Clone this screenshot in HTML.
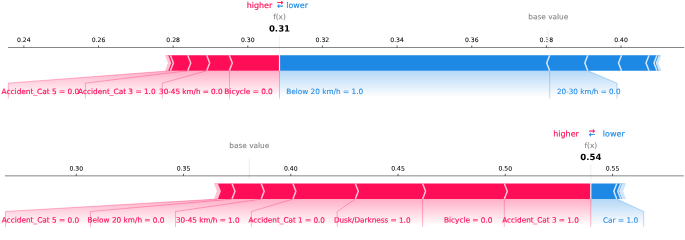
<!DOCTYPE html>
<html><head><meta charset="utf-8"><title>SHAP force plots</title>
<style>
html,body{margin:0;padding:0;background:#fff;}
body{width:685px;height:240px;overflow:hidden;}
svg{display:block;font-family:"DejaVu Sans","Liberation Sans",sans-serif;}
</style></head><body>
<svg width="685" height="240" viewBox="0 0 685 240">
<rect width="685" height="240" fill="#fff"/>
<g id="plot1">
<defs><linearGradient id="gp1" gradientUnits="userSpaceOnUse" x1="0" y1="70.75" x2="0" y2="97.1"><stop offset="0" stop-color="#FF0D57" stop-opacity="0.33"/><stop offset="1" stop-color="#FF0D57" stop-opacity="0"/></linearGradient><linearGradient id="gb1" gradientUnits="userSpaceOnUse" x1="0" y1="70.75" x2="0" y2="97.1"><stop offset="0" stop-color="#1E88E5" stop-opacity="0.33"/><stop offset="1" stop-color="#1E88E5" stop-opacity="0"/></linearGradient></defs>
<text x="23.85" y="41.98" font-size="6.15" text-anchor="middle" fill="#000" stroke="#000" stroke-width="0.06" transform="rotate(0.05,23.85,41.98)">0.24</text>
<text x="98.5" y="41.98" font-size="6.15" text-anchor="middle" fill="#000" stroke="#000" stroke-width="0.06" transform="rotate(0.05,98.5,41.98)">0.26</text>
<text x="173.15" y="41.98" font-size="6.15" text-anchor="middle" fill="#000" stroke="#000" stroke-width="0.06" transform="rotate(0.05,173.15,41.98)">0.28</text>
<text x="247.8" y="41.98" font-size="6.15" text-anchor="middle" fill="#000" stroke="#000" stroke-width="0.06" transform="rotate(0.05,247.8,41.98)">0.30</text>
<text x="322.45" y="41.98" font-size="6.15" text-anchor="middle" fill="#000" stroke="#000" stroke-width="0.06" transform="rotate(0.05,322.45,41.98)">0.32</text>
<text x="397.1" y="41.98" font-size="6.15" text-anchor="middle" fill="#000" stroke="#000" stroke-width="0.06" transform="rotate(0.05,397.1,41.98)">0.34</text>
<text x="471.75" y="41.98" font-size="6.15" text-anchor="middle" fill="#000" stroke="#000" stroke-width="0.06" transform="rotate(0.05,471.75,41.98)">0.36</text>
<text x="546.4" y="41.98" font-size="6.15" text-anchor="middle" fill="#000" stroke="#000" stroke-width="0.06" transform="rotate(0.05,546.4,41.98)">0.38</text>
<text x="621.05" y="41.98" font-size="6.15" text-anchor="middle" fill="#000" stroke="#000" stroke-width="0.06" transform="rotate(0.05,621.05,41.98)">0.40</text>
<line x1="548.3" x2="548.3" y1="50.6" y2="30.76" stroke="#F2F2F2" stroke-width="1.5"/>
<polygon points="279.5,70.75 170.4,70.75 8.3,83.15 8.3,101.75 279.5,101.75" fill="url(#gp1)"/>
<polygon points="279.5,70.75 587.8,70.75 617,83.15 617,101.75 279.5,101.75" fill="url(#gb1)"/>
<polygon fill="#FF0D57" points="229.3,70.75 279.5,70.75 279.5,55.25 229.3,55.25 232.3,63"/>
<polygon fill="#FF0D57" points="206.7,70.75 229.3,70.75 232,63 229.3,55.25 206.7,55.25 209.4,63"/>
<polygon fill="#FF0D57" points="187.75,70.75 206.7,70.75 209.4,63 206.7,55.25 187.75,55.25 190.45,63"/>
<polygon fill="#FF0D57" points="170.4,70.75 187.75,70.75 190.45,63 187.75,55.25 170.4,55.25 173.1,63"/>
<polygon fill="#FF0D57" points="167.5,70.75 170.4,70.75 173.1,63 170.4,55.25 167.5,55.25 170.2,63"/>
<polygon fill="#FF0D57" points="166.6,70.75 167.5,70.75 170.2,63 167.5,55.25 166.6,55.25 169.3,63"/>
<polygon fill="#FF0D57" points="165.8,70.75 166.6,70.75 169.3,63 166.6,55.25 165.8,55.25 168.5,63"/>
<polygon fill="#1E88E5" points="549.7,70.75 279.5,70.75 279.5,55.25 549.7,55.25 546.7,63"/>
<polygon fill="#1E88E5" points="549.7,70.75 587.8,70.75 585.1,63 587.8,55.25 549.7,55.25 547,63"/>
<polygon fill="#1E88E5" points="587.8,70.75 621.5,70.75 618.8,63 621.5,55.25 587.8,55.25 585.1,63"/>
<polygon fill="#1E88E5" points="621.5,70.75 649,70.75 646.3,63 649,55.25 621.5,55.25 618.8,63"/>
<polygon fill="#1E88E5" points="649,70.75 657,70.75 654.3,63 657,55.25 649,55.25 646.3,63"/>
<polygon fill="#1E88E5" points="657,70.75 659.4,70.75 656.7,63 659.4,55.25 657,55.25 654.3,63"/>
<polygon fill="#1E88E5" points="659.4,70.75 660.6,70.75 657.9,63 660.6,55.25 659.4,55.25 656.7,63"/>
<polyline fill="none" stroke="#FFC3D5" stroke-width="1.5" stroke-linejoin="miter" points="229.3,70.75 232.3,63 229.3,55.25"/>
<polyline fill="none" stroke="#FFC3D5" stroke-width="1.5" stroke-linejoin="miter" points="206.7,70.75 209.7,63 206.7,55.25"/>
<polyline fill="none" stroke="#FFC3D5" stroke-width="1.5" stroke-linejoin="miter" points="187.75,70.75 190.75,63 187.75,55.25"/>
<polyline fill="none" stroke="#FFC3D5" stroke-width="1.5" stroke-linejoin="miter" points="170.4,70.75 173.4,63 170.4,55.25"/>
<polyline fill="none" stroke="#FFC3D5" stroke-width="1.5" stroke-linejoin="miter" points="167.5,70.75 170.5,63 167.5,55.25"/>
<polyline fill="none" stroke="#FFC3D5" stroke-width="1.5" stroke-linejoin="miter" points="166.6,70.75 169.6,63 166.6,55.25"/>
<polyline fill="none" stroke="#FFC3D5" stroke-width="1.5" stroke-linejoin="miter" points="165.8,70.75 168.8,63 165.8,55.25"/>
<polyline fill="none" stroke="#D1E6FA" stroke-width="1.5" stroke-linejoin="miter" points="549.7,70.75 546.7,63 549.7,55.25"/>
<polyline fill="none" stroke="#D1E6FA" stroke-width="1.5" stroke-linejoin="miter" points="587.8,70.75 584.8,63 587.8,55.25"/>
<polyline fill="none" stroke="#D1E6FA" stroke-width="1.5" stroke-linejoin="miter" points="621.5,70.75 618.5,63 621.5,55.25"/>
<polyline fill="none" stroke="#D1E6FA" stroke-width="1.5" stroke-linejoin="miter" points="649,70.75 646,63 649,55.25"/>
<polyline fill="none" stroke="#D1E6FA" stroke-width="1.5" stroke-linejoin="miter" points="657,70.75 654,63 657,55.25"/>
<polyline fill="none" stroke="#D1E6FA" stroke-width="1.5" stroke-linejoin="miter" points="659.4,70.75 656.4,63 659.4,55.25"/>
<polyline fill="none" stroke="#D1E6FA" stroke-width="1.5" stroke-linejoin="miter" points="660.6,70.75 657.6,63 660.6,55.25"/>
<line x1="279.5" x2="279.5" y1="70.75" y2="98.65" stroke="#FF0D57" stroke-opacity="0.5" stroke-width="0.6"/>
<line x1="229.5" x2="229.5" y1="70.75" y2="98.65" stroke="#FF0D57" stroke-opacity="0.5" stroke-width="0.6"/>
<polyline fill="none" points="206.7,70.75 162.3,83.15 162.3,98.65" stroke="#FF0D57" stroke-opacity="0.5" stroke-width="0.6"/>
<polyline fill="none" points="187.75,70.75 85.4,83.15 85.4,98.65" stroke="#FF0D57" stroke-opacity="0.5" stroke-width="0.6"/>
<polyline fill="none" points="170.4,70.75 8.3,83.15 8.3,98.65" stroke="#FF0D57" stroke-opacity="0.5" stroke-width="0.6"/>
<text x="272.8" y="94" font-size="7.34" text-anchor="end" fill="#FF0D57" stroke="#FF0D57" stroke-width="0.15" transform="rotate(0.05,272.8,94)">Bicycle = 0.0</text>
<text x="222.6" y="94" font-size="7.21" text-anchor="end" fill="#FF0D57" stroke="#FF0D57" stroke-width="0.15" transform="rotate(0.05,222.6,94)">30-45 km/h = 0.0</text>
<text x="155.6" y="94" font-size="7.37" text-anchor="end" fill="#FF0D57" stroke="#FF0D57" stroke-width="0.15" transform="rotate(0.05,155.6,94)">Accident_Cat 3 = 1.0</text>
<text x="79.2" y="94" font-size="7.37" text-anchor="end" fill="#FF0D57" stroke="#FF0D57" stroke-width="0.15" transform="rotate(0.05,79.2,94)">Accident_Cat 5 = 0.0</text>
<line x1="549.7" x2="549.7" y1="70.75" y2="98.65" stroke="#1E88E5" stroke-opacity="0.5" stroke-width="0.6"/>
<polyline fill="none" points="587.8,70.75 617,83.15 617,98.65" stroke="#1E88E5" stroke-opacity="0.5" stroke-width="0.6"/>
<text x="286.2" y="94" font-size="7.34" text-anchor="start" fill="#1E88E5" stroke="#1E88E5" stroke-width="0.08" transform="rotate(0.05,286.2,94)">Below 20 km/h = 1.0</text>
<text x="557" y="94" font-size="7.21" text-anchor="start" fill="#1E88E5" stroke="#1E88E5" stroke-width="0.08" transform="rotate(0.05,557,94)">20-30 km/h = 0.0</text>
<line x1="279.5" x2="279.5" y1="70.75" y2="33.55" stroke="#F2F2F2" stroke-width="1.19"/>
<line x1="8" x2="684.2" y1="47.5" y2="47.5" stroke="#000" stroke-width="0.48"/>
<line x1="23.85" x2="23.85" y1="47.5" y2="45.41" stroke="#000" stroke-width="0.6"/>
<line x1="98.5" x2="98.5" y1="47.5" y2="45.41" stroke="#000" stroke-width="0.6"/>
<line x1="173.15" x2="173.15" y1="47.5" y2="45.41" stroke="#000" stroke-width="0.6"/>
<line x1="247.8" x2="247.8" y1="47.5" y2="45.41" stroke="#000" stroke-width="0.6"/>
<line x1="322.45" x2="322.45" y1="47.5" y2="45.41" stroke="#000" stroke-width="0.6"/>
<line x1="397.1" x2="397.1" y1="47.5" y2="45.41" stroke="#000" stroke-width="0.6"/>
<line x1="471.75" x2="471.75" y1="47.5" y2="45.41" stroke="#000" stroke-width="0.6"/>
<line x1="546.4" x2="546.4" y1="47.5" y2="45.41" stroke="#000" stroke-width="0.6"/>
<line x1="621.05" x2="621.05" y1="47.5" y2="45.41" stroke="#000" stroke-width="0.6"/>
<rect x="526.49" y="11.04" width="43.63" height="13.34" fill="#fff"/>
<text x="548.3" y="19.3" font-size="7.38" text-anchor="middle" fill="#000" stroke="#000" stroke-width="0.12" opacity="0.5" transform="rotate(0.05,548.3,19.3)">base value</text>
<rect x="266.82" y="22.25" width="25.36" height="13.73" fill="#fff"/>
<text x="279.5" y="31.5" font-size="8.61" text-anchor="middle" fill="#000" font-weight="bold" transform="rotate(0.05,279.5,31.5)">0.31</text>
<text x="279.5" y="19.3" font-size="7.38" text-anchor="middle" fill="#000" stroke="#000" stroke-width="0.12" opacity="0.5" transform="rotate(0.05,279.5,19.3)">f(x)</text>
<text x="272.3" y="7.92" font-size="8" text-anchor="end" fill="#FF0D57" stroke="#FF0D57" stroke-width="0.15" transform="rotate(0.05,272.3,7.92)">higher</text>
<text x="286.2" y="7.92" font-size="8" text-anchor="start" fill="#1E88E5" stroke="#1E88E5" stroke-width="0.15" transform="rotate(0.05,286.2,7.92)">lower</text>
<text x="280.2" y="8.45" font-size="7.6" text-anchor="middle" fill="#1E88E5" stroke="#1E88E5" stroke-width="0.3" transform="rotate(0.05,280.2,8.45)">&#8592;</text>
<text x="280.2" y="4.97" font-size="7.6" text-anchor="middle" fill="#FF0D57" stroke="#FF0D57" stroke-width="0.3" transform="rotate(0.05,280.2,4.97)">&#8594;</text>
</g>
<g id="plot2">
<defs><linearGradient id="gp2" gradientUnits="userSpaceOnUse" x1="0" y1="199.1" x2="0" y2="225.45"><stop offset="0" stop-color="#FF0D57" stop-opacity="0.33"/><stop offset="1" stop-color="#FF0D57" stop-opacity="0"/></linearGradient><linearGradient id="gb2" gradientUnits="userSpaceOnUse" x1="0" y1="199.1" x2="0" y2="225.45"><stop offset="0" stop-color="#1E88E5" stop-opacity="0.33"/><stop offset="1" stop-color="#1E88E5" stop-opacity="0"/></linearGradient></defs>
<text x="76.3" y="170.63" font-size="6.15" text-anchor="middle" fill="#000" stroke="#000" stroke-width="0.06" transform="rotate(0.05,76.3,170.63)">0.30</text>
<text x="183.54" y="170.63" font-size="6.15" text-anchor="middle" fill="#000" stroke="#000" stroke-width="0.06" transform="rotate(0.05,183.54,170.63)">0.35</text>
<text x="290.78" y="170.63" font-size="6.15" text-anchor="middle" fill="#000" stroke="#000" stroke-width="0.06" transform="rotate(0.05,290.78,170.63)">0.40</text>
<text x="398.02" y="170.63" font-size="6.15" text-anchor="middle" fill="#000" stroke="#000" stroke-width="0.06" transform="rotate(0.05,398.02,170.63)">0.45</text>
<text x="505.26" y="170.63" font-size="6.15" text-anchor="middle" fill="#000" stroke="#000" stroke-width="0.06" transform="rotate(0.05,505.26,170.63)">0.50</text>
<text x="612.5" y="170.63" font-size="6.15" text-anchor="middle" fill="#000" stroke="#000" stroke-width="0.06" transform="rotate(0.05,612.5,170.63)">0.55</text>
<line x1="249.3" x2="249.3" y1="178.95" y2="159.11" stroke="#F2F2F2" stroke-width="1.5"/>
<polygon points="590.8,199.1 217.1,199.1 5.5,211.5 5.5,230.1 590.8,230.1" fill="url(#gp2)"/>
<polygon points="590.8,199.1 616.8,199.1 643.7,211.5 643.7,230.1 590.8,230.1" fill="url(#gb2)"/>
<polygon fill="#FF0D57" points="504.3,199.1 590.8,199.1 590.8,183.6 504.3,183.6 507.3,191.35"/>
<polygon fill="#FF0D57" points="422.6,199.1 504.3,199.1 507,191.35 504.3,183.6 422.6,183.6 425.3,191.35"/>
<polygon fill="#FF0D57" points="355.3,199.1 422.6,199.1 425.3,191.35 422.6,183.6 355.3,183.6 358,191.35"/>
<polygon fill="#FF0D57" points="292.9,199.1 355.3,199.1 358,191.35 355.3,183.6 292.9,183.6 295.6,191.35"/>
<polygon fill="#FF0D57" points="261.2,199.1 292.9,199.1 295.6,191.35 292.9,183.6 261.2,183.6 263.9,191.35"/>
<polygon fill="#FF0D57" points="232,199.1 261.2,199.1 263.9,191.35 261.2,183.6 232,183.6 234.7,191.35"/>
<polygon fill="#FF0D57" points="217.1,199.1 232,199.1 234.7,191.35 232,183.6 217.1,183.6 219.8,191.35"/>
<polygon fill="#FF0D57" points="216.4,199.1 217.1,199.1 219.8,191.35 217.1,183.6 216.4,183.6 219.1,191.35"/>
<polygon fill="#FF0D57" points="215.7,199.1 216.4,199.1 219.1,191.35 216.4,183.6 215.7,183.6 218.4,191.35"/>
<polygon fill="#FF0D57" points="214.8,199.1 215.7,199.1 218.4,191.35 215.7,183.6 214.8,183.6 217.5,191.35"/>
<polygon fill="#1E88E5" points="616.8,199.1 590.8,199.1 590.8,183.6 616.8,183.6 613.8,191.35"/>
<polygon fill="#1E88E5" points="616.8,199.1 620.8,199.1 618.1,191.35 620.8,183.6 616.8,183.6 614.1,191.35"/>
<polygon fill="#1E88E5" points="620.8,199.1 622.8,199.1 620.1,191.35 622.8,183.6 620.8,183.6 618.1,191.35"/>
<polygon fill="#1E88E5" points="622.8,199.1 623.5,199.1 620.8,191.35 623.5,183.6 622.8,183.6 620.1,191.35"/>
<polygon fill="#1E88E5" points="623.5,199.1 624.2,199.1 621.5,191.35 624.2,183.6 623.5,183.6 620.8,191.35"/>
<polygon fill="#1E88E5" points="624.2,199.1 624.9,199.1 622.2,191.35 624.9,183.6 624.2,183.6 621.5,191.35"/>
<polygon fill="#1E88E5" points="624.9,199.1 625.2,199.1 622.5,191.35 625.2,183.6 624.9,183.6 622.2,191.35"/>
<polyline fill="none" stroke="#FFC3D5" stroke-width="1.5" stroke-linejoin="miter" points="504.3,199.1 507.3,191.35 504.3,183.6"/>
<polyline fill="none" stroke="#FFC3D5" stroke-width="1.5" stroke-linejoin="miter" points="422.6,199.1 425.6,191.35 422.6,183.6"/>
<polyline fill="none" stroke="#FFC3D5" stroke-width="1.5" stroke-linejoin="miter" points="355.3,199.1 358.3,191.35 355.3,183.6"/>
<polyline fill="none" stroke="#FFC3D5" stroke-width="1.5" stroke-linejoin="miter" points="292.9,199.1 295.9,191.35 292.9,183.6"/>
<polyline fill="none" stroke="#FFC3D5" stroke-width="1.5" stroke-linejoin="miter" points="261.2,199.1 264.2,191.35 261.2,183.6"/>
<polyline fill="none" stroke="#FFC3D5" stroke-width="1.5" stroke-linejoin="miter" points="232,199.1 235,191.35 232,183.6"/>
<polyline fill="none" stroke="#FFC3D5" stroke-width="1.5" stroke-linejoin="miter" points="217.1,199.1 220.1,191.35 217.1,183.6"/>
<polyline fill="none" stroke="#FFC3D5" stroke-width="1.5" stroke-linejoin="miter" points="216.4,199.1 219.4,191.35 216.4,183.6"/>
<polyline fill="none" stroke="#FFC3D5" stroke-width="1.5" stroke-linejoin="miter" points="215.7,199.1 218.7,191.35 215.7,183.6"/>
<polyline fill="none" stroke="#FFC3D5" stroke-width="1.5" stroke-linejoin="miter" points="214.8,199.1 217.8,191.35 214.8,183.6"/>
<polyline fill="none" stroke="#D1E6FA" stroke-width="1.5" stroke-linejoin="miter" points="616.8,199.1 613.8,191.35 616.8,183.6"/>
<polyline fill="none" stroke="#D1E6FA" stroke-width="1.5" stroke-linejoin="miter" points="620.8,199.1 617.8,191.35 620.8,183.6"/>
<polyline fill="none" stroke="#D1E6FA" stroke-width="1.5" stroke-linejoin="miter" points="622.8,199.1 619.8,191.35 622.8,183.6"/>
<polyline fill="none" stroke="#D1E6FA" stroke-width="1.5" stroke-linejoin="miter" points="623.5,199.1 620.5,191.35 623.5,183.6"/>
<polyline fill="none" stroke="#D1E6FA" stroke-width="1.5" stroke-linejoin="miter" points="624.2,199.1 621.2,191.35 624.2,183.6"/>
<polyline fill="none" stroke="#D1E6FA" stroke-width="1.5" stroke-linejoin="miter" points="624.9,199.1 621.9,191.35 624.9,183.6"/>
<polyline fill="none" stroke="#D1E6FA" stroke-width="1.5" stroke-linejoin="miter" points="625.2,199.1 622.2,191.35 625.2,183.6"/>
<line x1="590.8" x2="590.8" y1="199.1" y2="227" stroke="#FF0D57" stroke-opacity="0.5" stroke-width="0.6"/>
<line x1="504.3" x2="504.3" y1="199.1" y2="227" stroke="#FF0D57" stroke-opacity="0.5" stroke-width="0.6"/>
<line x1="422.6" x2="422.6" y1="199.1" y2="227" stroke="#FF0D57" stroke-opacity="0.5" stroke-width="0.6"/>
<polyline fill="none" points="355.3,199.1 337.2,211.5 337.2,227" stroke="#FF0D57" stroke-opacity="0.5" stroke-width="0.6"/>
<polyline fill="none" points="292.9,199.1 251.4,211.5 251.4,227" stroke="#FF0D57" stroke-opacity="0.5" stroke-width="0.6"/>
<polyline fill="none" points="261.2,199.1 175.5,211.5 175.5,227" stroke="#FF0D57" stroke-opacity="0.5" stroke-width="0.6"/>
<polyline fill="none" points="232,199.1 90.5,211.5 90.5,227" stroke="#FF0D57" stroke-opacity="0.5" stroke-width="0.6"/>
<polyline fill="none" points="217.1,199.1 5.5,211.5 5.5,227" stroke="#FF0D57" stroke-opacity="0.5" stroke-width="0.6"/>
<text x="578.8" y="222.65" font-size="7.28" text-anchor="end" fill="#FF0D57" stroke="#FF0D57" stroke-width="0.15" transform="rotate(0.05,578.8,222.65)">Accident_Cat 3 = 1.0</text>
<text x="492.5" y="222.65" font-size="7.34" text-anchor="end" fill="#FF0D57" stroke="#FF0D57" stroke-width="0.15" transform="rotate(0.05,492.5,222.65)">Bicycle = 0.0</text>
<text x="410.5" y="222.65" font-size="7.26" text-anchor="end" fill="#FF0D57" stroke="#FF0D57" stroke-width="0.15" transform="rotate(0.05,410.5,222.65)">Dusk/Darkness = 1.0</text>
<text x="325" y="222.65" font-size="7.28" text-anchor="end" fill="#FF0D57" stroke="#FF0D57" stroke-width="0.15" transform="rotate(0.05,325,222.65)">Accident_Cat 1 = 0.0</text>
<text x="239.5" y="222.65" font-size="7.21" text-anchor="end" fill="#FF0D57" stroke="#FF0D57" stroke-width="0.15" transform="rotate(0.05,239.5,222.65)">30-45 km/h = 1.0</text>
<text x="164.5" y="222.65" font-size="7.34" text-anchor="end" fill="#FF0D57" stroke="#FF0D57" stroke-width="0.15" transform="rotate(0.05,164.5,222.65)">Below 20 km/h = 0.0</text>
<text x="79.3" y="222.65" font-size="7.37" text-anchor="end" fill="#FF0D57" stroke="#FF0D57" stroke-width="0.15" transform="rotate(0.05,79.3,222.65)">Accident_Cat 5 = 0.0</text>
<polyline fill="none" points="616.8,199.1 643.7,211.5 643.7,227" stroke="#1E88E5" stroke-opacity="0.5" stroke-width="0.6"/>
<text x="603" y="222.65" font-size="7.34" text-anchor="start" fill="#1E88E5" stroke="#1E88E5" stroke-width="0.08" transform="rotate(0.05,603,222.65)">Car = 1.0</text>
<line x1="590.8" x2="590.8" y1="199.1" y2="161.9" stroke="#F2F2F2" stroke-width="1.19"/>
<line x1="5" x2="683.8" y1="175.85" y2="175.85" stroke="#000" stroke-width="0.48"/>
<line x1="76.3" x2="76.3" y1="175.85" y2="173.76" stroke="#000" stroke-width="0.6"/>
<line x1="183.54" x2="183.54" y1="175.85" y2="173.76" stroke="#000" stroke-width="0.6"/>
<line x1="290.78" x2="290.78" y1="175.85" y2="173.76" stroke="#000" stroke-width="0.6"/>
<line x1="398.02" x2="398.02" y1="175.85" y2="173.76" stroke="#000" stroke-width="0.6"/>
<line x1="505.26" x2="505.26" y1="175.85" y2="173.76" stroke="#000" stroke-width="0.6"/>
<line x1="612.5" x2="612.5" y1="175.85" y2="173.76" stroke="#000" stroke-width="0.6"/>
<rect x="227.49" y="139.39" width="43.63" height="13.34" fill="#fff"/>
<text x="249.3" y="147.95" font-size="7.38" text-anchor="middle" fill="#000" stroke="#000" stroke-width="0.12" opacity="0.5" transform="rotate(0.05,249.3,147.95)">base value</text>
<rect x="578.12" y="150.6" width="25.36" height="13.73" fill="#fff"/>
<text x="590.8" y="159.95" font-size="8.61" text-anchor="middle" fill="#000" font-weight="bold" transform="rotate(0.05,590.8,159.95)">0.54</text>
<text x="590.8" y="147.95" font-size="7.38" text-anchor="middle" fill="#000" stroke="#000" stroke-width="0.12" opacity="0.5" transform="rotate(0.05,590.8,147.95)">f(x)</text>
<text x="578.9" y="136.57" font-size="8" text-anchor="end" fill="#FF0D57" stroke="#FF0D57" stroke-width="0.15" transform="rotate(0.05,578.9,136.57)">higher</text>
<text x="602.8" y="136.57" font-size="8" text-anchor="start" fill="#1E88E5" stroke="#1E88E5" stroke-width="0.15" transform="rotate(0.05,602.8,136.57)">lower</text>
<text x="592" y="137.1" font-size="7.6" text-anchor="middle" fill="#1E88E5" stroke="#1E88E5" stroke-width="0.3" transform="rotate(0.05,592,137.1)">&#8592;</text>
<text x="592" y="133.62" font-size="7.6" text-anchor="middle" fill="#FF0D57" stroke="#FF0D57" stroke-width="0.3" transform="rotate(0.05,592,133.62)">&#8594;</text>
</g>
</svg>
</body></html>
